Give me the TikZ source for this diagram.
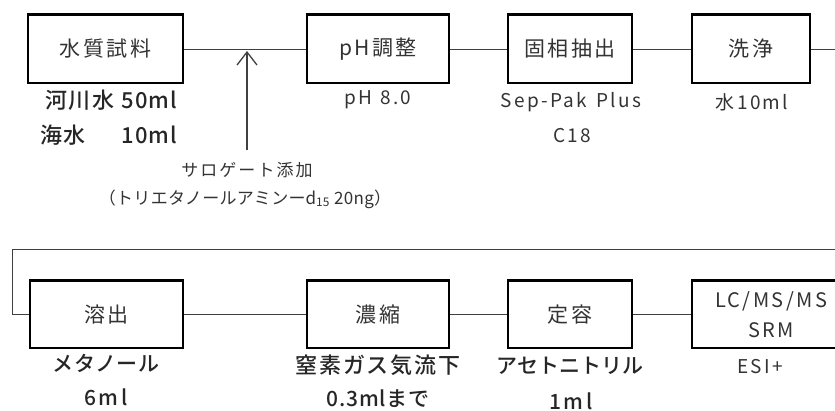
\documentclass[tikz,border=0pt]{standalone}
\usepackage{fontspec}
\setmainfont[LetterSpace=12, BoldFont={Noto Sans CJK JP Medium}]{Noto Sans CJK JP}
\newcommand{\lsp}[2]{{\addfontfeatures{LetterSpace=#1}#2}}
\usetikzlibrary{arrows.meta}
\begin{document}
\begin{tikzpicture}[x=1pt,y=-1pt,
  box/.style={draw=black, line width=1.1pt, fill=white, inner sep=0pt,
    font=\fontsize{21}{24}\selectfont, text=black!80},
  lbl/.style={font=\fontsize{19}{22}\selectfont, inner sep=0pt, text=black!80},
  blbl/.style={font=\fontsize{21}{24}\selectfont\bfseries, inner sep=0pt, text=black!85},
  conn/.style={line width=0.9pt, draw=black!75},
  topedge/.style={line width=2pt, draw=black}]
\useasboundingbox (0,0) rectangle (835,411);
% top row
\node[box, minimum width=155pt, minimum height=68pt] (b1) at (105.5,49) {水質試料};
\node[box, minimum width=142pt, minimum height=68pt] (b2) at (378,49) {pH調整};
\node[box, minimum width=124pt, minimum height=68pt] (b3) at (570,49) {固相抽出};
\node[box, minimum width=118pt, minimum height=68pt] (b4) at (751,49) {洗浄};
% bottom row
\node[box, minimum width=153pt, minimum height=67pt] (c1) at (106.5,314.5) {溶出};
\node[box, minimum width=142pt, minimum height=67pt] (c2) at (378,314.5) {濃縮};
\node[box, minimum width=124pt, minimum height=67pt] (c3) at (570,314.5) {定容};
\node[box, minimum width=158pt, minimum height=67pt, align=center,
  font=\fontsize{20}{30}\selectfont] (c4) at (771,314.5) {LC/MS/MS\\SRM};
\foreach \n in {b1,b2,b3,b4,c1,c2,c3,c4}
  \draw[topedge] (\n.north west) -- (\n.north east);
% connectors
\coordinate (r1) at (842,49);
\coordinate (r2) at (842,249);
\coordinate (l1) at (12,249);
\coordinate (l2) at (12,314.5);
\draw[conn] (b1) -- (b2);
\draw[conn] (b2) -- (b3);
\draw[conn] (b3) -- (b4);
\draw[conn] (b4.east) -- (r1) -- (r2) -- (l1) -- (l2) -- (c1.west);
\draw[conn] (c1) -- (c2);
\draw[conn] (c2) -- (c3);
\draw[conn] (c3) -- (c4);
% surrogate arrow
\coordinate (a0) at (247,150);
\coordinate (a1) at (247,51);
\draw[conn, line width=1.3pt, -{Straight Barb[length=13pt,width=20pt]}] (a0) -- (a1);
% labels
\node[blbl, anchor=east, font=\fontsize{22}{26}\selectfont\bfseries] (t1) at (177,100) {\lsp{6}{河川水} \lsp{4}{50ml}};
\node[blbl, anchor=east, font=\fontsize{22}{26}\selectfont\bfseries] (t2) at (177,135) {\lsp{6}{海水}\hspace{36pt}\lsp{4}{10ml}};
\node[lbl] (t3) at (378,100) {pH\hspace{8pt}8.0};
\node[lbl] (t4) at (571,102) {Sep-Pak\hspace{9pt}Plus};
\node[lbl] (t5) at (572,136) {C18};
\node[lbl] (t6) at (752,102) {水10ml};
\node[lbl, font=\fontsize{17}{20}\selectfont] (t7) at (247,170) {サロゲート添加};
\node[lbl, font=\fontsize{17}{20}\selectfont] (t8) at (245,199) {\lsp{2}{（トリエタノールアミンー$\mathit{d}_{\mathit{15}}$ 20ng）}};
\node[blbl] (u1) at (106,363) {\lsp{2}{メタノール}};
\node[blbl] (u2) at (106,397) {6ml};
\node[blbl, font=\fontsize{22}{25}\selectfont\bfseries] (u3) at (378,365) {\lsp{8}{窒素ガス気流下}};
\node[blbl] (u4) at (378,399) {\lsp{4}{0.3mlまで}};
\node[blbl] (u5) at (570,366) {\lsp{0}{アセトニトリル}};
\node[blbl] (u6) at (571,401) {1ml};
\node[lbl] (u7) at (760,367) {ESI+};
\end{tikzpicture}
\end{document}
